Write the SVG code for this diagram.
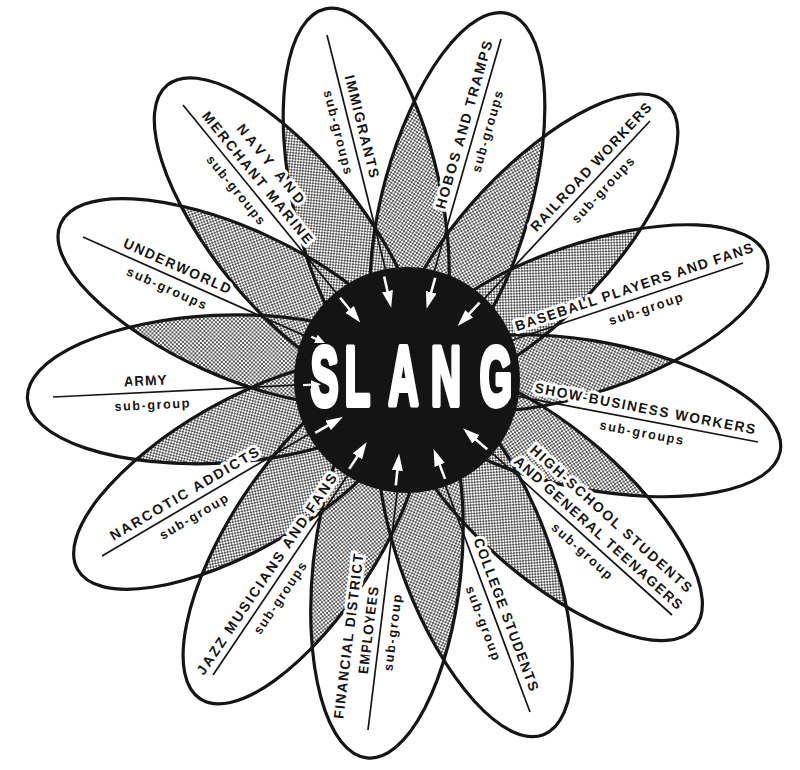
<svg xmlns="http://www.w3.org/2000/svg" xmlns:xlink="http://www.w3.org/1999/xlink" width="800" height="770" viewBox="0 0 800 770">
<style>
.o{fill:none;stroke:#151515;stroke-width:3.2}
.ln{stroke:#151515;stroke-width:1.7;fill:none}
.cap{font-family:"Liberation Sans",Arial,sans-serif;font-weight:bold;font-size:14px;fill:#151515;stroke:#fff;stroke-width:6;stroke-linejoin:round;paint-order:stroke;text-anchor:middle}
.sub{font-family:"Liberation Sans",Arial,sans-serif;font-weight:bold;font-size:13px;fill:#151515;stroke:#fff;stroke-width:6;stroke-linejoin:round;paint-order:stroke;text-anchor:middle}
.arr{stroke:#fff;stroke-width:2.6;fill:none;marker-end:url(#ah)}
.arrs{stroke:#fff;stroke-width:2.2;fill:none;marker-end:url(#ahs)}
</style>
<defs>
<pattern id="dots" width="4" height="4" patternUnits="userSpaceOnUse"><rect width="4" height="4" fill="#fff"/><rect width="2" height="2" fill="#555"/><rect x="2" y="2" width="2" height="2" fill="#555"/></pattern>
<marker id="ah" markerUnits="userSpaceOnUse" markerWidth="18" markerHeight="11" refX="7" refY="5.5" orient="auto"><path d="M0,0 L17,5.5 L0,11 Z" fill="#fff"/></marker>
<marker id="ahs" markerUnits="userSpaceOnUse" markerWidth="10" markerHeight="9" refX="4" refY="4.5" orient="auto"><path d="M0,0 L10,4.5 L0,9 Z" fill="#fff"/></marker>
<ellipse id="p0" cx="597" cy="380" rx="190" ry="74" transform="rotate(257.6 407 380)"/>
<ellipse id="p1" cx="597" cy="380" rx="190" ry="74" transform="rotate(285.4 407 380)"/>
<ellipse id="p2" cx="597" cy="380" rx="190" ry="74" transform="rotate(313.2 407 380)"/>
<ellipse id="p3" cx="597" cy="380" rx="190" ry="74" transform="rotate(341 407 380)"/>
<ellipse id="p4" cx="597" cy="380" rx="190" ry="74" transform="rotate(10.85 407 380)"/>
<ellipse id="p5" cx="597" cy="380" rx="190" ry="74" transform="rotate(40.85 407 380)"/>
<ellipse id="p6" cx="597" cy="380" rx="190" ry="74" transform="rotate(68.95 407 380)"/>
<ellipse id="p7" cx="597" cy="380" rx="190" ry="74" transform="rotate(96.05 407 380)"/>
<ellipse id="p8" cx="597" cy="380" rx="190" ry="74" transform="rotate(122.95 407 380)"/>
<ellipse id="p9" cx="597" cy="380" rx="190" ry="74" transform="rotate(150.05 407 380)"/>
<ellipse id="p10" cx="597" cy="380" rx="190" ry="74" transform="rotate(177.2 407 380)"/>
<ellipse id="p11" cx="597" cy="380" rx="190" ry="74" transform="rotate(204.3 407 380)"/>
<ellipse id="p12" cx="597" cy="380" rx="190" ry="74" transform="rotate(230.9 407 380)"/>
<clipPath id="c0"><use xlink:href="#p0"/></clipPath>
<clipPath id="c1"><use xlink:href="#p1"/></clipPath>
<clipPath id="c2"><use xlink:href="#p2"/></clipPath>
<clipPath id="c3"><use xlink:href="#p3"/></clipPath>
<clipPath id="c4"><use xlink:href="#p4"/></clipPath>
<clipPath id="c5"><use xlink:href="#p5"/></clipPath>
<clipPath id="c6"><use xlink:href="#p6"/></clipPath>
<clipPath id="c7"><use xlink:href="#p7"/></clipPath>
<clipPath id="c8"><use xlink:href="#p8"/></clipPath>
<clipPath id="c9"><use xlink:href="#p9"/></clipPath>
<clipPath id="c10"><use xlink:href="#p10"/></clipPath>
<clipPath id="c11"><use xlink:href="#p11"/></clipPath>
<clipPath id="c12"><use xlink:href="#p12"/></clipPath>
</defs>
<rect width="800" height="770" fill="#fff"/>
<g id="overlaps" fill="url(#dots)">
<use xlink:href="#p0" clip-path="url(#c1)"/>
<use xlink:href="#p1" clip-path="url(#c2)"/>
<use xlink:href="#p2" clip-path="url(#c3)"/>
<use xlink:href="#p3" clip-path="url(#c4)"/>
<use xlink:href="#p4" clip-path="url(#c5)"/>
<use xlink:href="#p5" clip-path="url(#c6)"/>
<use xlink:href="#p6" clip-path="url(#c7)"/>
<use xlink:href="#p7" clip-path="url(#c8)"/>
<use xlink:href="#p8" clip-path="url(#c9)"/>
<use xlink:href="#p9" clip-path="url(#c10)"/>
<use xlink:href="#p10" clip-path="url(#c11)"/>
<use xlink:href="#p11" clip-path="url(#c12)"/>
<use xlink:href="#p12" clip-path="url(#c0)"/>
</g>
<g id="petal-outlines">
<use xlink:href="#p0" class="o"/><use xlink:href="#p1" class="o"/><use xlink:href="#p2" class="o"/><use xlink:href="#p3" class="o"/><use xlink:href="#p4" class="o"/><use xlink:href="#p5" class="o"/><use xlink:href="#p6" class="o"/><use xlink:href="#p7" class="o"/><use xlink:href="#p8" class="o"/><use xlink:href="#p9" class="o"/><use xlink:href="#p10" class="o"/><use xlink:href="#p11" class="o"/><use xlink:href="#p12" class="o"/>
</g>
<g id="connectors">
<path class="ln" d="M327,35 L385.6,269.9"/>
<path class="ln" d="M501,39 L434.3,271.3"/>
<path class="ln" d="M650,121 L484.1,298.8"/>
<path class="ln" d="M743,263 L511.9,340.3"/>
<path class="ln" d="M758,442 L518,396.3"/>
<path class="ln" d="M672,615 L492,453"/>
<path class="ln" d="M530,712 L445.3,485.2"/>
<path class="ln" d="M368,730 L397.3,491.5"/>
<path class="ln" d="M213,675 L347.8,475.1"/>
<path class="ln" d="M102,556 L309,434"/>
<path class="ln" d="M53,397 L295.2,385.1"/>
<path class="ln" d="M83,237 L304.4,335.6"/>
<path class="ln" d="M183,105 L336.4,293.1"/>
</g>
<g id="slang">
<circle cx="407" cy="380" r="113" fill="#141414"/>
<text transform="translate(0 405) scale(0.5 1)" font-family="Liberation Sans, Arial, sans-serif" font-weight="bold" font-size="83" fill="#fff" stroke="#fff" stroke-width="6" stroke-linejoin="round" text-anchor="middle"><tspan x="649">S</tspan><tspan x="715">L</tspan><tspan x="807">A</tspan><tspan x="892">N</tspan><tspan x="992">G</tspan></text>
<path class="arr" d="M340.1,297.7 L354,314.8"/>
<path class="arr" d="M384.2,276.5 L389,298"/>
<path class="arr" d="M435.2,277.8 L429.3,299"/>
<path class="arr" d="M479.6,302.7 L464.5,318.8"/>
<path class="arrs" d="M311.3,336.8 L319.5,340.5"/>
<path class="arrs" d="M303.1,385.1 L315.1,384.5"/>
<path class="arr" d="M315.2,432.9 L334.2,421.9"/>
<path class="arr" d="M349.3,468.9 L361.3,450.5"/>
<path class="arr" d="M395.8,485.4 L398.1,463.5"/>
<path class="arr" d="M445.1,478.9 L437.2,458.4"/>
<path class="arr" d="M487.2,449.3 L470.6,434.9"/>
</g>
<g id="immigrants">
<text class="cap" transform="translate(350.5 129.2) rotate(76)" y="-7" textLength="105">IMMIGRANTS</text>
<text class="sub" transform="translate(350.5 129.2) rotate(76)" y="17" textLength="86">sub-groups</text>
</g>
<g id="hobos">
<text class="cap" transform="translate(475.4 128.1) rotate(-74)" y="-7" textLength="174">HOBOS AND TRAMPS</text>
<text class="sub" transform="translate(475.4 128.1) rotate(-74)" y="17" textLength="84">sub-groups</text>
</g>
<g id="railroad">
<text class="cap" transform="translate(599.5 175.1) rotate(-47)" y="-7" textLength="170">RAILROAD WORKERS</text>
<text class="sub" transform="translate(593.7 181.4) rotate(-47)" y="17" textLength="85">sub-groups</text>
</g>
<g id="baseball">
<text class="cap" transform="translate(637.8 298.2) rotate(-18.5)" y="-7" textLength="250">BASEBALL PLAYERS AND FANS</text>
<text class="sub" transform="translate(641.7 296.9) rotate(-18.5)" y="17" textLength="77">sub-group</text>
</g>
<g id="show-business">
<text class="cap" transform="translate(642.8 420.1) rotate(10.8)" y="-7" textLength="224">SHOW-BUSINESS WORKERS</text>
<text class="sub" transform="translate(643.9 420.3) rotate(10.8)" y="17" textLength="85">sub-groups</text>
</g>
<g id="high-school">
<text class="cap" transform="translate(590.5 541.6) rotate(42)" y="-26" textLength="212">HIGH-SCHOOL STUDENTS</text>
<text class="cap" transform="translate(590.5 541.6) rotate(42)" y="-7" textLength="221">AND GENERAL TEENAGERS</text>
<text class="sub" transform="translate(590.5 541.6) rotate(42)" y="17" textLength="77">sub-group</text>
</g>
<g id="college">
<text class="cap" transform="translate(495.1 618.6) rotate(69.5)" y="-7" textLength="162">COLLEGE STUDENTS</text>
<text class="sub" transform="translate(495.1 618.6) rotate(69.5)" y="17" textLength="78">sub-group</text>
</g>
<g id="financial">
<text class="cap" transform="translate(379.1 640) rotate(-83)" y="-26" textLength="166">FINANCIAL DISTRICT</text>
<text class="cap" transform="translate(380.1 631.7) rotate(-83)" y="-7" textLength="88">EMPLOYEES</text>
<text class="sub" transform="translate(380.1 631.3) rotate(-83)" y="17" textLength="77">sub-group</text>
</g>
<g id="jazz">
<text class="cap" transform="translate(276.5 580.8) rotate(-56)" y="-7" textLength="239">JAZZ MUSICIANS AND FANS</text>
<text class="sub" transform="translate(269.6 591) rotate(-56)" y="17" textLength="84">sub-groups</text>
</g>
<g id="narcotic">
<text class="cap" transform="translate(190.4 503.9) rotate(-30.5)" y="-7" textLength="170">NARCOTIC ADDICTS</text>
<text class="sub" transform="translate(187.3 505.7) rotate(-30.5)" y="17" textLength="77">sub-group</text>
</g>
<g id="army">
<text class="cap" transform="translate(145.7 392.5) rotate(-2.8)" y="-7" textLength="43">ARMY</text>
<text class="sub" transform="translate(151.4 392.2) rotate(-2.8)" y="17" textLength="75">sub-group</text>
</g>
<g id="underworld">
<text class="cap" transform="translate(172.4 276.8) rotate(24)" y="-7" textLength="116">UNDERWORLD</text>
<text class="sub" transform="translate(171.8 276.6) rotate(24)" y="17" textLength="86">sub-groups</text>
</g>
<g id="navy">
<text class="cap" transform="translate(246.8 183.2) rotate(50.8)" y="-26" textLength="98">NAVY AND</text>
<text class="cap" transform="translate(248.2 185) rotate(50.8)" y="-7" textLength="166">MERCHANT MARINE</text>
<text class="sub" transform="translate(245.7 181.9) rotate(50.8)" y="17" textLength="85">sub-groups</text>
</g>
</svg>
